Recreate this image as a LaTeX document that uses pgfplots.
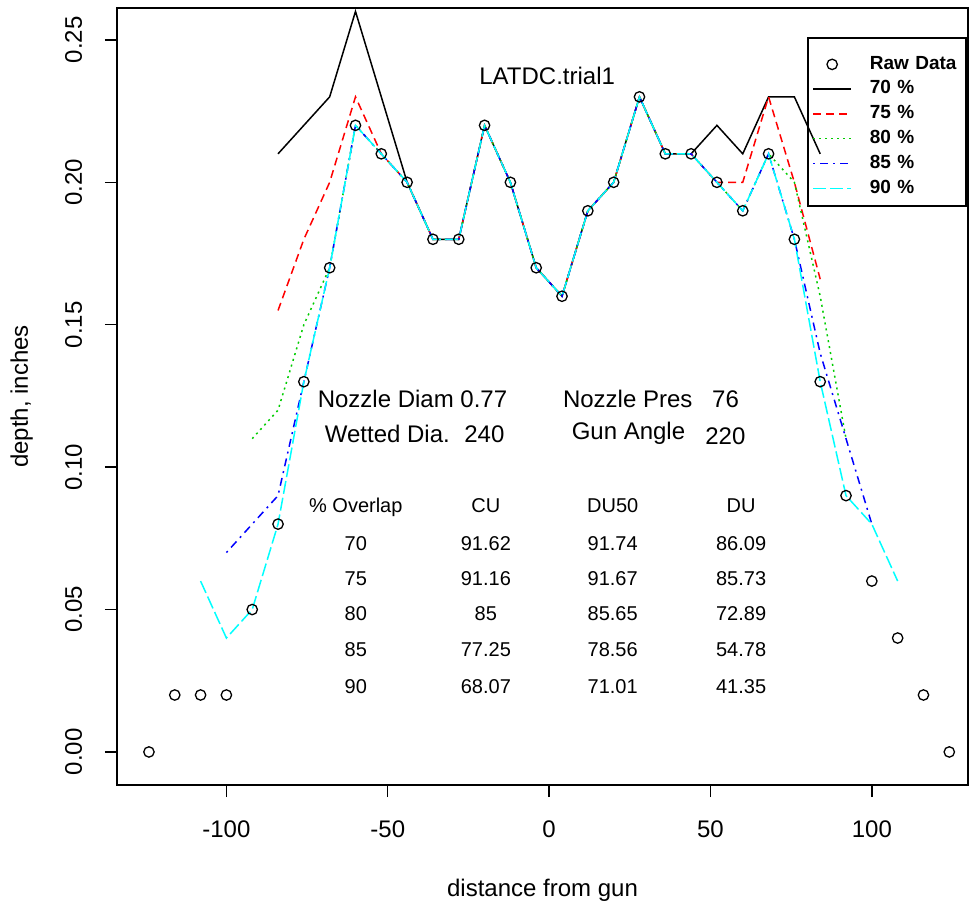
\documentclass[border=0pt]{standalone}
\usepackage{fontspec}
\setmainfont{Liberation Sans}
\usepackage{pgfplots}
\pgfplotsset{compat=1.18}
\definecolor{rgreen}{HTML}{00CD00}
\definecolor{rred}{HTML}{FF0000}
\definecolor{rblue}{HTML}{0000FF}
\definecolor{rcyan}{HTML}{00FFFF}

\begin{document}
\begin{tikzpicture}
\begin{axis}[
    at={(0,0)}, anchor=south west,
    scale only axis, width=425.5pt, height=388.5pt,
    xmin=-133.9, xmax=129.8,
    ymin=-0.0116, ymax=0.2612,
    xtick={-100,-50,0,50,100},
    ytick={0,0.05,0.1,0.15,0.2,0.25},
    tick pos=left, tick align=outside,
    major tick length=6pt,
    tick style={black, line width=0.7pt},
    axis line style={line width=0.8pt},
    /pgf/number format/assume math mode=true,
    ticklabel style={font=\fontsize{12}{14}\selectfont, inner sep=0pt},
    xticklabel style={anchor=base},
    xticklabel shift=20pt,
    yticklabel style={rotate=90, anchor=base,
        /pgf/number format/fixed, /pgf/number format/fixed zerofill,
        /pgf/number format/precision=2},
    yticklabel shift=11.5pt,
    xlabel={distance from gun},
    ylabel={depth, inches},
    label style={font=\fontsize{12}{14}\selectfont, inner sep=0pt},
    xlabel style={at={(axis description cs:0.5,-0.1429)}, anchor=base},
    ylabel style={at={(axis description cs:-0.1046,0.5)}, rotate=0, anchor=base},
    legend image code/.code={
        \draw[mark repeat=2, mark phase=2, #1] plot coordinates {(0pt,0pt) (9.5pt,0pt) (19pt,0pt)};
        \path (0pt,-3.9pt) (28pt,7.8pt);
    },
    legend style={at={(rel axis cs:0.812,0.9614)}, anchor=north west,
        draw=none, fill=none,
        inner xsep=2pt, inner ysep=5pt, row sep=0pt,
        font=\bfseries\fontsize{9.5}{11}\selectfont,
        cells={anchor=west},
        nodes={inner xsep=0pt, inner ysep=0pt, text height=6.3pt, text depth=1.5pt, text width=47pt}},
]

% raw data
\addplot[only marks, mark=o, mark size=2.6pt, mark options={black, line width=0.65pt}] coordinates {
    (-124,0) (-116,0.02) (-108,0.02) (-100,0.02) (-92,0.05) (-84,0.08) (-76,0.13) (-68,0.17)
    (-60,0.22) (-52,0.21) (-44,0.20) (-36,0.18) (-28,0.18) (-20,0.22) (-12,0.20) (-4,0.17)
    (4,0.16) (12,0.19) (20,0.20) (28,0.23) (36,0.21) (44,0.21) (52,0.20) (60,0.19)
    (68,0.21) (76,0.18) (84,0.13) (92,0.09) (100,0.06) (108,0.04) (116,0.02) (124,0)
};
\addlegendentry{Raw Data}

% 70 % overlap
\addplot[black, solid, line width=0.75pt] coordinates {
    (-84,0.21) (-76,0.22) (-68,0.23) (-60,0.26) (-52,0.23) (-44,0.20) (-36,0.18) (-28,0.18)
    (-20,0.22) (-12,0.20) (-4,0.17) (4,0.16) (12,0.19) (20,0.20) (28,0.23) (36,0.21)
    (44,0.21) (52,0.22) (60,0.21) (68,0.23) (76,0.23) (84,0.21)
};
\addlegendentry{70 \%}

% 75 %
\addplot[rred, line width=0.75pt, dash pattern=on 4pt off 2.5pt] coordinates {
    (-84,0.155) (-76,0.18) (-68,0.20) (-60,0.23) (-52,0.21) (-44,0.20) (-36,0.18) (-28,0.18)
    (-20,0.22) (-12,0.20) (-4,0.17) (4,0.16) (12,0.19) (20,0.20) (28,0.23) (36,0.21)
    (44,0.21) (52,0.20) (60,0.20) (68,0.23) (76,0.20) (84,0.166)
};
\addlegendentry{75 \%}

% 80 %
\addplot[rgreen, line width=0.75pt, dash pattern=on 1pt off 2pt] coordinates {
    (-92,0.11) (-84,0.12) (-76,0.15) (-68,0.17) (-60,0.22) (-52,0.21) (-44,0.20) (-36,0.18)
    (-28,0.18) (-20,0.22) (-12,0.20) (-4,0.17) (4,0.16) (12,0.19) (20,0.20) (28,0.23)
    (36,0.21) (44,0.21) (52,0.20) (60,0.19) (68,0.21) (76,0.20) (84,0.16) (92,0.11)
};
\addlegendentry{80 \%}

% 85 %
\addplot[rblue, line width=0.75pt, dash pattern=on 1pt off 2.5pt on 4pt off 2.5pt] coordinates {
    (-100,0.07) (-92,0.08) (-84,0.09) (-76,0.13) (-68,0.17) (-60,0.22) (-52,0.21) (-44,0.20)
    (-36,0.18) (-28,0.18) (-20,0.22) (-12,0.20) (-4,0.17) (4,0.16) (12,0.19) (20,0.20)
    (28,0.23) (36,0.21) (44,0.21) (52,0.20) (60,0.19) (68,0.21) (76,0.18) (84,0.14)
    (92,0.11) (100,0.08)
};
\addlegendentry{85 \%}

% 90 %
\addplot[rcyan, line width=0.75pt, dash pattern=on 6.5pt off 2pt] coordinates {
    (-108,0.06) (-100,0.04) (-92,0.05) (-84,0.08) (-76,0.13) (-68,0.17) (-60,0.22) (-52,0.21)
    (-44,0.20) (-36,0.18) (-28,0.18) (-20,0.22) (-12,0.20) (-4,0.17) (4,0.16) (12,0.19)
    (20,0.20) (28,0.23) (36,0.21) (44,0.21) (52,0.20) (60,0.19) (68,0.21) (76,0.18)
    (84,0.13) (92,0.09) (100,0.08) (108,0.06)
};
\addlegendentry{90 \%}

% legend frame
\draw[black, line width=1pt] (rel axis cs:0.812,0.9614) rectangle (rel axis cs:0.9977,0.7452);

% annotations
\begin{scope}[every node/.style={inner sep=0pt, font=\fontsize{12}{14}\selectfont}]
\node[anchor=base] at (axis cs:-0.6,0.2342) {LATDC.trial1};
\node[anchor=base west] at (axis cs:-71.8,0.1211) {Nozzle Diam 0.77};
\node[anchor=base west] at (axis cs:-69.6,0.1085) {Wetted Dia.};
\node[anchor=base west] at (axis cs:-26.4,0.1085) {240};
\node[anchor=base west] at (axis cs:4.2,0.1211) {Nozzle Pres};
\node[anchor=base west] at (axis cs:50.4,0.1211) {76};
\node[anchor=base west] at (axis cs:6.9,0.1096) {Gun Angle};
\node[anchor=base west] at (axis cs:48.3,0.1078) {220};
\end{scope}

\begin{scope}[every node/.style={inner sep=0pt, anchor=base, font=\fontsize{10}{12}\selectfont}]
\node at (axis cs:-59.9,0.0839) {\% Overlap};
\node at (axis cs:-19.6,0.0839) {CU};
\node at (axis cs:19.7,0.0839) {DU50};
\node at (axis cs:59.5,0.0839) {DU};
\node at (axis cs:-59.9,0.0709) {70};
\node at (axis cs:-19.6,0.0709) {91.62};
\node at (axis cs:19.7,0.0709) {91.74};
\node at (axis cs:59.5,0.0709) {86.09};
\node at (axis cs:-59.9,0.0586) {75};
\node at (axis cs:-19.6,0.0586) {91.16};
\node at (axis cs:19.7,0.0586) {91.67};
\node at (axis cs:59.5,0.0586) {85.73};
\node at (axis cs:-59.9,0.0463) {80};
\node at (axis cs:-19.6,0.0463) {85};
\node at (axis cs:19.7,0.0463) {85.65};
\node at (axis cs:59.5,0.0463) {72.89};
\node at (axis cs:-59.9,0.0334) {85};
\node at (axis cs:-19.6,0.0334) {77.25};
\node at (axis cs:19.7,0.0334) {78.56};
\node at (axis cs:59.5,0.0334) {54.78};
\node at (axis cs:-59.9,0.0207) {90};
\node at (axis cs:-19.6,0.0207) {68.07};
\node at (axis cs:19.7,0.0207) {71.01};
\node at (axis cs:59.5,0.0207) {41.35};
\end{scope}

\end{axis}
\pgfresetboundingbox
\path[use as bounding box] (-58.5pt,-60pt) rectangle (426pt,392.5pt);
\end{tikzpicture}
\end{document}
